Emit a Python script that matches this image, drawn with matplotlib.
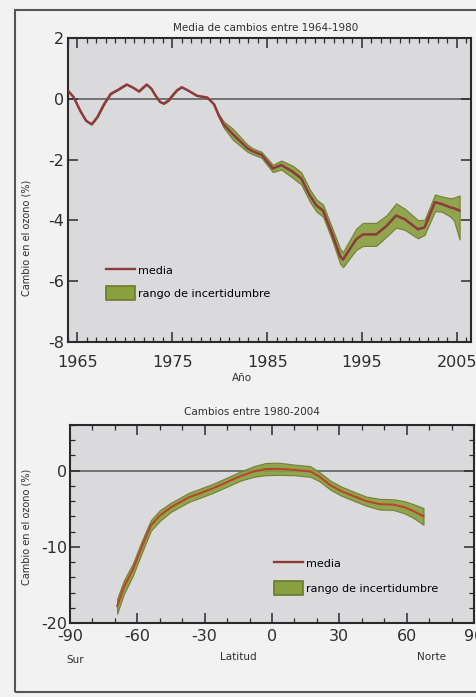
import matplotlib.pyplot as plt
from matplotlib.lines import Line2D
from matplotlib.patches import Patch, Rectangle

# top panel: mean ozone change relative to 1964-1980
years = [1964.0, 1964.6, 1965.3, 1965.9, 1966.5, 1967.1, 1967.8, 1968.5, 1969.3, 1970.2,
         1970.9, 1971.5, 1971.9, 1972.3, 1972.8, 1973.2, 1973.7, 1974.1, 1974.6, 1975.0,
         1975.5, 1976.0, 1976.8, 1977.6, 1978.7, 1979.4, 1979.9, 1980.4, 1981.4, 1982.9,
         1983.5, 1984.4, 1985.6, 1986.5, 1987.7, 1988.6, 1989.5, 1990.2, 1990.9, 1991.8,
         1992.7, 1993.0, 1993.7, 1994.4, 1995.1, 1996.5, 1997.6, 1998.6, 1999.5, 2000.9,
         2001.6, 2002.7, 2003.4, 2004.3, 2004.7, 2005.3]
mean_time = [0.27, 0.05, -0.40, -0.72, -0.84, -0.60, -0.18, 0.16, 0.30, 0.47,
             0.36, 0.24, 0.36, 0.47, 0.33, 0.12, -0.10, -0.16, -0.06, 0.10,
             0.28, 0.38, 0.25, 0.10, 0.04, -0.18, -0.55, -0.84, -1.17, -1.62,
             -1.73, -1.84, -2.29, -2.18, -2.40, -2.62, -3.18, -3.51, -3.68, -4.40,
             -5.18, -5.29, -4.95, -4.62, -4.46, -4.46, -4.18, -3.84, -3.96, -4.29,
             -4.23, -3.40, -3.46, -3.57, -3.60, -3.68]
spread_lo_time = [0, 0, 0, 0, 0, 0, 0, 0, 0, 0,
                  0, 0, 0, 0, 0, 0, 0, 0, 0, 0,
                  0, 0, 0, 0, 0, 0, 0.05, 0.10, 0.18, 0.12,
                  0.10, 0.10, 0.12, 0.15, 0.20, 0.20, 0.20, 0.20, 0.20, 0.20,
                  0.25, 0.25, 0.30, 0.35, 0.38, 0.38, 0.35, 0.40, 0.35, 0.30,
                  0.25, 0.30, 0.25, 0.30, 0.40, 0.95]
spread_hi_time = [0, 0, 0, 0, 0, 0, 0, 0, 0, 0,
                  0, 0, 0, 0, 0, 0, 0, 0, 0, 0,
                  0, 0, 0, 0, 0, 0, 0.05, 0.10, 0.18, 0.12,
                  0.10, 0.10, 0.12, 0.15, 0.20, 0.20, 0.20, 0.20, 0.20, 0.20,
                  0.25, 0.25, 0.30, 0.35, 0.38, 0.38, 0.35, 0.40, 0.35, 0.30,
                  0.25, 0.25, 0.25, 0.30, 0.35, 0.50]
year_ticks = [1965, 1975, 1985, 1995, 2005]

# bottom panel: change 1980-2004 by latitude
latitudes = [-69, -66, -62, -58, -54, -50, -45, -37, -27, -20, -14, -8, -3,
             3, 10, 17, 21, 26, 31, 36, 42, 48, 54, 59, 63, 67.5]
mean_lat = [-17.8, -15.3, -13.0, -10.0, -7.2, -5.9, -4.8, -3.5, -2.4, -1.5, -0.7, -0.1, 0.2,
            0.25, 0.1, -0.1, -0.75, -1.9, -2.7, -3.3, -4.0, -4.4, -4.45, -4.8, -5.3, -6.0]
spread_lat = [1.0, 0.9, 0.8, 0.8, 0.7, 0.7, 0.6, 0.6, 0.6, 0.6, 0.6, 0.7, 0.8,
              0.8, 0.7, 0.7, 0.6, 0.6, 0.6, 0.6, 0.6, 0.7, 0.7, 0.8, 0.9, 1.1]
lat_ticks = [-90, -60, -30, 0, 30, 60, 90]

LINE_TOP = "#8e3a3c"
LINE_BOT = "#b8462c"
BAND = "#88a03e"
BAND_EDGE = "#6b7a2c"
AX_BG = "#dadadc"
INK = "#2e2e2e"

plt.rcParams["font.family"] = ["DejaVu Sans"]
plt.rcParams["axes.unicode_minus"] = False

fig = plt.figure(figsize=(4.77, 6.97), dpi=100)
fig.patch.set_facecolor("#f2f2f2")
fig.patches.append(Rectangle((15 / 477, 1 - 692 / 697), 1.2, (692 - 10) / 697,
                             transform=fig.transFigure, fill=False,
                             edgecolor="#555555", linewidth=1.5))


def style_axes(ax):
    ax.set_facecolor(AX_BG)
    for spine in ax.spines.values():
        spine.set_color("#2a2a2a")
        spine.set_linewidth(1.5)
    ax.tick_params(which="both", direction="in", top=True, right=True,
                   colors="#2a2a2a", labelcolor=INK, labelsize=11.5)
    ax.tick_params(which="major", length=7, width=1.1)
    ax.tick_params(which="minor", length=3.5, width=0.9)


# top panel
ax1 = fig.add_axes([68 / 477, 1 - 342 / 697, 403 / 477, 304 / 697])
style_axes(ax1)
low = [m - s for m, s in zip(mean_time, spread_lo_time)]
high = [m + s for m, s in zip(mean_time, spread_hi_time)]
ax1.axhline(0, color="#555555", linewidth=1.1, zorder=1)
ax1.fill_between(years, low, high, facecolor=BAND, edgecolor=BAND_EDGE,
                 linewidth=0.8, alpha=0.9, zorder=2)
ax1.plot(years, mean_time, color=LINE_TOP, linewidth=1.8, zorder=3,
         solid_joinstyle="round", solid_capstyle="round")
ax1.set_xlim(1964, 2006.5)
ax1.set_ylim(-8, 2)
ax1.set_xticks(year_ticks)
ax1.set_xticks(range(1964, 2007), minor=True)
ax1.set_yticks([-8, -6, -4, -2, 0, 2])
ax1.tick_params(axis="x", pad=9)
ax1.tick_params(axis="y", pad=3)

handles = [Line2D([], [], color=LINE_TOP, linewidth=1.7),
           Patch(facecolor=BAND, edgecolor=BAND_EDGE, linewidth=1.2)]
ax1.legend(handles, ["media", "rango de incertidumbre"], loc="lower left",
           bbox_to_anchor=(0.07, 0.105), frameon=False, fontsize=8,
           handlelength=2.6, handleheight=1.6, labelspacing=0.75, handletextpad=0.3)

fig.text(266 / 477, 1 - 28 / 697, "Media de cambios entre 1964-1980",
         ha="center", va="center", fontsize=7.5, color=INK)
fig.text(242 / 477, 1 - 378 / 697, "Año", ha="center", va="center",
         fontsize=7.5, color=INK)
fig.text(27 / 477, 1 - 238 / 697, "Cambio en el ozono (%)", ha="center",
         va="center", rotation=90, fontsize=7, color=INK)

# bottom panel
ax2 = fig.add_axes([70 / 477, 1 - 623 / 697, 404 / 477, 198 / 697])
style_axes(ax2)
low = [m - s for m, s in zip(mean_lat, spread_lat)]
high = [m + s for m, s in zip(mean_lat, spread_lat)]
ax2.axhline(0, color="#555555", linewidth=1.1, zorder=1)
ax2.fill_between(latitudes, low, high, facecolor=BAND, edgecolor=BAND_EDGE,
                 linewidth=0.8, alpha=0.9, zorder=2)
ax2.plot(latitudes, mean_lat, color=LINE_BOT, linewidth=1.5, zorder=3,
         solid_joinstyle="round", solid_capstyle="round")
ax2.set_xlim(-90, 90)
ax2.set_ylim(-20, 6)
ax2.set_xticks(lat_ticks)
ax2.set_xticks(range(-90, 91, 10), minor=True)
ax2.set_yticks([-20, -10, 0])
ax2.set_yticks(range(-20, 7, 2), minor=True)
ax2.tick_params(axis="x", pad=4)
ax2.tick_params(axis="y", pad=2)

ax2.legend(handles, ["media", "rango de incertidumbre"], loc="lower left",
           bbox_to_anchor=(0.48, 0.09), frameon=False, fontsize=8,
           handlelength=2.6, handleheight=1.6, labelspacing=0.9, handletextpad=0.3)

fig.text(252 / 477, 1 - 412 / 697, "Cambios entre 1980-2004",
         ha="center", va="center", fontsize=7.5, color=INK)
fig.text(238 / 477, 1 - 657 / 697, "Latitud", ha="center", va="center",
         fontsize=7.5, color=INK)
fig.text(75 / 477, 1 - 660 / 697, "Sur", ha="center", va="center",
         fontsize=7.5, color=INK)
fig.text(432 / 477, 1 - 657 / 697, "Norte", ha="center", va="center",
         fontsize=7.5, color=INK)
fig.text(27 / 477, 1 - 527 / 697, "Cambio en el ozono (%)", ha="center",
         va="center", rotation=90, fontsize=7, color=INK)

fig.savefig("out.png", dpi=100, facecolor=fig.get_facecolor())
plt.close(fig)
